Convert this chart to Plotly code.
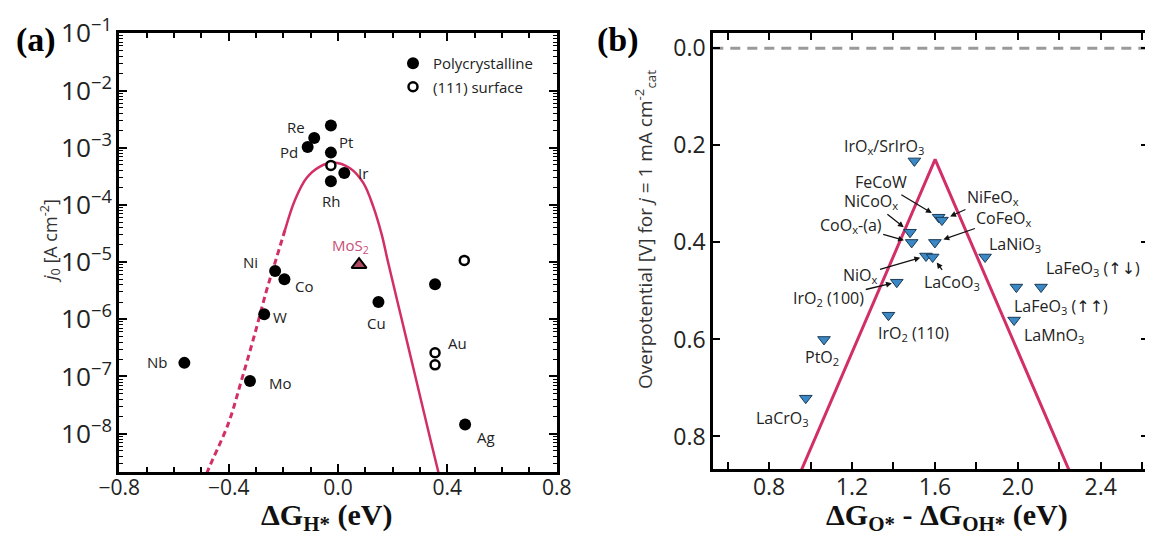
import math
import plotly.graph_objects as go

# ---------------- Panel (a) data: HER volcano ----------------
# polycrystalline metals (filled circles)
poly_label = ["Pt", "", "Re", "Pd", "Ir", "Rh", "Ni", "Co", "W", "Mo", "Nb", "Cu", "", "Ag"]
poly_dG = [-0.026, -0.026, -0.087, -0.111, 0.023, -0.026, -0.230, -0.196, -0.270, -0.322, -0.562, 0.148, 0.355, 0.465]
poly_j0 = [8.2e-4, 2.45e-3, 1.48e-3, 1.03e-3, 3.6e-4, 2.6e-4, 7.0e-6, 5.0e-6, 1.22e-6, 8.3e-8, 1.73e-7, 2.0e-6, 4.1e-6, 1.45e-8]

# (111) surfaces (open circles)
surf_label = ["", "Au", "", ""]
surf_dG = [-0.026, 0.355, 0.355, 0.462]
surf_j0 = [4.9e-4, 2.6e-7, 1.6e-7, 1.07e-5]

# MoS2 (triangle)
mos2_label = ["MoS<sub>2</sub>"]
mos2_dG = [0.077]
mos2_j0 = [9.0e-6]

# volcano curve (log10 j0)
curve_solid_dG = [-0.194, -0.157, -0.115, -0.066, -0.017, 0.044, 0.093, 0.129, 0.160, 0.183, 0.233, 0.283, 0.333, 0.367, 0.376]
curve_solid_logj = [-4.44, -3.91, -3.53, -3.33, -3.26, -3.36, -3.62, -4.03, -4.52, -5.00, -6.00, -7.00, -8.00, -8.67, -8.85]
curve_dash_dG = [-0.194, -0.231, -0.261, -0.304, -0.352, -0.401, -0.478, -0.490]
curve_dash_logj = [-4.44, -5.02, -5.49, -6.25, -7.05, -7.82, -8.67, -8.85]

# ---------------- Panel (b) data: OER volcano ----------------
ARW = '<span style="font-family:DejaVu Sans">{}</span>'
oer_label = ["IrO<sub>x</sub>/SrIrO<sub>3</sub>", "FeCoW", "NiFeO<sub>x</sub>", "NiCoO<sub>x</sub>",
             "CoO<sub>x</sub>-(a)", "CoFeO<sub>x</sub>", "NiO<sub>x</sub>", "LaCoO<sub>3</sub>",
             "LaNiO<sub>3</sub>", "IrO<sub>2</sub> (100)", "IrO<sub>2</sub> (110)", "PtO<sub>2</sub>",
             "LaCrO<sub>3</sub>", "LaFeO<sub>3</sub> (" + ARW.format("↑↑") + ")",
             "LaFeO<sub>3</sub> (" + ARW.format("↑↓") + ")", "LaMnO<sub>3</sub>"]
oer_dG = [1.501, 1.618, 1.634, 1.480, 1.488, 1.600, 1.557, 1.589, 1.842, 1.416, 1.376, 1.065, 0.977, 1.993, 2.112, 1.982]
oer_eta = [0.232, 0.348, 0.354, 0.379, 0.400, 0.400, 0.428, 0.430, 0.430, 0.482, 0.550, 0.600, 0.721, 0.492, 0.492, 0.560]

oer_line_dG = [0.925, 1.601, 2.278]
oer_line_eta = [0.900, 0.229, 0.900]

# ---------------- styles ----------------
SANS = "Open Sans"
SERIF = "Liberation Serif"
RED = "#d22f68"
TXT = "#222222"

# label offsets in pixels (dx right, dy up)
a_off = {"Pt": (15, 11), "Re": (-18, 11), "Pd": (-19, -5), "Ir": (19, 0), "Rh": (0, -20),
         "Ni": (-25, 9), "Co": (20, -7), "W": (16, -3), "Mo": (31, -2), "Nb": (-27, 1),
         "Cu": (-2, -21), "Ag": (21, -13), "Au": (22, 10), "MoS<sub>2</sub>": (-9, 19)}
b_off = [(-30, 14), (-58, 35), (51, 23), (-39, 31), (-61, 17), (69, 24), (-65, -19), (19, -26),
         (30, 12), (-68, -16), (25, -18), (-2, -18), (-23, -20), (45, -19), (52, 19), (40, -15)]
# labels that carry an arrow: index -> standoff (px)
b_arrows = {1: 8, 2: 9, 3: 8, 4: 8, 5: 9, 6: 6, 7: 7, 9: 5}

# the page body adds an 8 px margin; size the figure so it fits the 1153x538 window
OFF = 8
W, H = 1153 - OFF, 538 - OFF


def px(x):
    return (x - OFF) / W


def py(y):
    return 1 - (y - OFF) / H


fig = go.Figure()

# panel (a) traces
fig.add_trace(go.Scatter(x=curve_dash_dG, y=[10 ** v for v in curve_dash_logj], mode="lines",
                         line=dict(color=RED, width=3, dash="6px,4px", shape="spline"),
                         showlegend=False, xaxis="x", yaxis="y"))
fig.add_trace(go.Scatter(x=curve_solid_dG, y=[10 ** v for v in curve_solid_logj], mode="lines",
                         line=dict(color=RED, width=2.5, shape="spline", smoothing=1.0),
                         showlegend=False, xaxis="x", yaxis="y"))
fig.add_trace(go.Scatter(x=poly_dG, y=poly_j0, mode="markers", name="Polycrystalline",
                         marker=dict(symbol="circle", size=12, color="black"),
                         legendgroup="g1", xaxis="x", yaxis="y"))
fig.add_trace(go.Scatter(x=surf_dG, y=surf_j0, mode="markers", name="(111) surface",
                         marker=dict(symbol="circle", size=9, color="white",
                                     line=dict(color="black", width=2.5)),
                         legendgroup="g2", xaxis="x", yaxis="y"))
fig.add_trace(go.Scatter(x=mos2_dG, y=mos2_j0, mode="markers", showlegend=False,
                         marker=dict(symbol="triangle-up", size=13, color="#b04a63",
                                     line=dict(color="black", width=2)),
                         xaxis="x", yaxis="y"))

# panel (b) traces
fig.add_trace(go.Scatter(x=oer_line_dG, y=oer_line_eta, mode="lines",
                         line=dict(color=RED, width=3), showlegend=False,
                         xaxis="x2", yaxis="y2"))
fig.add_trace(go.Scatter(x=oer_dG, y=oer_eta, mode="markers", showlegend=False,
                         marker=dict(symbol="triangle-down", size=11, color="#3a88c5",
                                     line=dict(color="#1b3a55", width=1)),
                         xaxis="x2", yaxis="y2"))

ann = []
# point labels (a)
for lab, xs, ys in ((poly_label, poly_dG, poly_j0), (surf_label, surf_dG, surf_j0),
                    (mos2_label, mos2_dG, mos2_j0)):
    for l, xv, yv in zip(lab, xs, ys):
        if not l:
            continue
        dx, dy = a_off[l]
        ann.append(dict(x=xv, y=math.log10(yv), xref="x", yref="y", text=l, showarrow=False,
                        xshift=dx, yshift=dy, xanchor="center", yanchor="middle",
                        font=dict(family=SANS, size=15,
                                  color="#c8507a" if "MoS" in l else TXT)))

# point labels (b)
for i, (l, xv, yv) in enumerate(zip(oer_label, oer_dG, oer_eta)):
    dx, dy = b_off[i]
    if i in b_arrows:
        ann.append(dict(x=xv, y=yv, xref="x2", yref="y2", text=l, showarrow=True,
                        ax=dx, ay=-dy, standoff=b_arrows[i], arrowhead=2, arrowsize=0.9,
                        arrowwidth=1.3, arrowcolor="#111111",
                        font=dict(family=SANS, size=16, color=TXT)))
    else:
        ann.append(dict(x=xv, y=yv, xref="x2", yref="y2", text=l, showarrow=False,
                        xshift=dx, yshift=dy, xanchor="center", yanchor="middle",
                        font=dict(family=SANS, size=16, color=TXT)))


def paper_text(x, y, text, font, angle=0):
    return dict(x=px(x), y=py(y), xref="paper", yref="paper", text=text, showarrow=False,
                xanchor="center", yanchor="middle", textangle=angle, font=font)


# panel letters, axis titles
ann += [
    paper_text(36, 40, "<b>(a)</b>", dict(family=SERIF, size=34, color="black")),
    paper_text(618, 40, "<b>(b)</b>", dict(family=SERIF, size=34, color="black")),
    paper_text(327, 517, "<b>ΔG<sub>H*</sub> (eV)</b>", dict(family=SERIF, size=30, color="#111111")),
    paper_text(947, 517, "<b>ΔG<sub>O*</sub> - ΔG<sub>OH*</sub> (eV)</b>",
               dict(family=SERIF, size=30, color="#111111")),
    paper_text(50, 241, "<i>j</i><sub>0</sub> [A cm<sup>-2</sup>]",
               dict(family=SANS, size=18, color="#333333"), -90),
    paper_text(645, 230, "Overpotential [V] for <i>j</i> = 1 mA cm<sup>-2</sup><sub>cat</sub>",
               dict(family=SANS, size=19, color="#333333"), -90),
]

axis_common = dict(showline=True, linewidth=3, linecolor="black", mirror="allticks",
                   ticks="inside", tickwidth=2, tickcolor="black", showgrid=False,
                   zeroline=False, automargin=False)

fig.update_layout(
    width=W, height=H, margin=dict(l=0, r=0, t=0, b=0, pad=0, autoexpand=False),
    paper_bgcolor="white", plot_bgcolor="white",
    xaxis=dict(domain=[px(119.3), px(556.7)], anchor="y", range=[-0.8, 0.8],
               tick0=-0.8, dtick=0.4, tickformat=".1f", ticklen=8, ticklabelstandoff=-5,
               minor=dict(ticks="inside", ticklen=5, tickwidth=1.5, dtick=0.1, tick0=0,
                          tickcolor="black", showgrid=False),
               tickfont=dict(family=SANS, size=21, color=TXT), **axis_common),
    yaxis=dict(domain=[py(472), py(33.3)], anchor="x", type="log", range=[-8.67, -1],
               dtick=1, exponentformat="power", ticklen=8,
               minor=dict(ticks="inside", ticklen=4, tickwidth=1.2, dtick="D1",
                          tickcolor="black", showgrid=False),
               tickfont=dict(family=SANS, size=21, color=TXT), **axis_common),
    xaxis2=dict(domain=[px(713.3), px(1148)], anchor="y2", range=[0.531, 2.628],
                tick0=0.8, dtick=0.4, tickformat=".1f", ticklen=7, ticklabelstandoff=-5,
                minor=dict(ticks="inside", ticklen=7, tickwidth=2, dtick=0.2, tick0=0.6,
                           tickcolor="black", showgrid=False),
                tickfont=dict(family=SANS, size=23, color=TXT), **axis_common),
    yaxis2=dict(domain=[py(469), py(33.3)], anchor="x2", range=[0.867, -0.031],
                tick0=0, dtick=0.2, tickformat=".1f", ticklen=7,
                tickfont=dict(family=SANS, size=23, color=TXT), **axis_common),
    legend=dict(x=px(393), y=py(47), xanchor="left", yanchor="top",
                bgcolor="rgba(0,0,0,0)", font=dict(family=SANS, size=15, color=TXT),
                itemwidth=30, tracegroupgap=1, traceorder="grouped"),
    annotations=ann,
    shapes=[dict(type="line", xref="x2 domain", x0=0, x1=1, yref="y2", y0=0, y1=0,
                 line=dict(color="#9a9a9a", width=3, dash="10px,7px"), layer="below")],
)

fig.write_html("out.html")
